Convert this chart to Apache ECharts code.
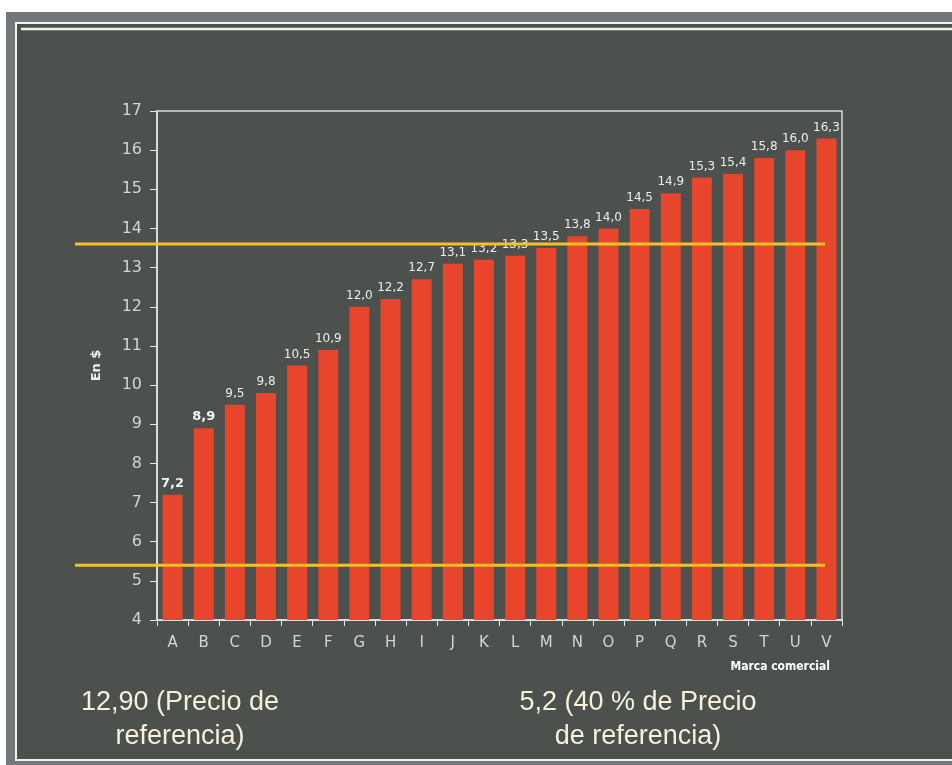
<!DOCTYPE html>
<html>
<head>
<meta charset="utf-8">
<script src="https://cdn.jsdelivr.net/npm/echarts@6/dist/echarts.min.js"></script>
<style>
html,body{margin:0;padding:0;background:#ffffff;}
#main{width:952px;height:765px;}
</style>
</head>
<body>
<div id="main"></div>
<script>
// ---- data ----
const categories = ['A','B','C','D','E','F','G','H','I','J','K','L','M','N','O','P','Q','R','S','T','U','V'];
const prices = [7.2, 8.9, 9.5, 9.8, 10.5, 10.9, 12.0, 12.2, 12.7, 13.1, 13.2, 13.3, 13.5, 13.8, 14.0, 14.5, 14.9, 15.3, 15.4, 15.8, 16.0, 16.3];
const boldLabels = ['A','B'];
const upperRefLine = 13.6;
const lowerRefLine = 5.4;
const yTicks = { min: 4, max: 17, interval: 1 };
const yAxisName = 'En $';
const xAxisName = 'Marca comercial';
const noteLeft = '12,90 (Precio de\nreferencia)';
const noteRight = '5,2 (40 % de Precio\nde referencia)';

const chart = echarts.init(document.getElementById('main'), null, {renderer:'canvas'});

const barData = prices.map((v, i) => ({
  value: v,
  label: boldLabels.indexOf(categories[i]) >= 0 ? {fontWeight:'bold', fontSize:13, color:'#f4f4f4'} : undefined
}));

const option = {
  backgroundColor: '#ffffff',
  animation: false,
  graphic: [
    {type:'rect', z:-10, shape:{x:6,y:12,width:946,height:753}, style:{fill:'#74777a'}},
    {type:'rect', z:-9, shape:{x:16,y:23,width:940,height:737}, style:{fill:'#4c514e', stroke:'#f2f2f2', lineWidth:2}},
    {type:'line', z:-8, shape:{x1:21,y1:29,x2:952,y2:29}, style:{stroke:'#f2f2f2', lineWidth:2.5}},
    {type:'text', x:830, y:667, z:10, style:{text:xAxisName, fill:'#ffffff', font:'bold 12px "DejaVu Sans Condensed","DejaVu Sans"', textAlign:'right', textVerticalAlign:'middle'}},
    {type:'text', x:180, y:720, z:10, style:{text:noteLeft, fill:'#f5f1da', font:'27px "Liberation Sans"', textAlign:'center', textVerticalAlign:'middle', lineHeight:34}},
    {type:'text', x:638, y:720, z:10, style:{text:noteRight, fill:'#f5f1da', font:'27px "Liberation Sans"', textAlign:'center', textVerticalAlign:'middle', lineHeight:34}}
  ],
  grid: [
    {left:157, right:110, top:111, bottom:145, show:true, borderColor:'#dcdcdc', borderWidth:1.5, backgroundColor:'transparent'},
    {left:75, right:127, top:111, bottom:145, show:false}
  ],
  xAxis: [
    {
      type:'category', data:categories, gridIndex:0,
      boundaryGap:true,
      axisLine:{show:true, lineStyle:{color:'#e6e6e6', width:1.5}},
      axisTick:{show:true, alignWithLabel:false, length:6, lineStyle:{color:'#e6e6e6'}},
      axisLabel:{color:'#d2d5d2', fontSize:15, margin:16, fontFamily:'DejaVu Sans'}
    },
    {type:'value', gridIndex:1, min:0, max:1, show:false}
  ],
  yAxis: [
    {
      type:'value', gridIndex:0, min:yTicks.min, max:yTicks.max, interval:yTicks.interval,
      name:yAxisName, nameLocation:'middle', nameGap:54, nameRotate:90,
      nameTextStyle:{color:'#eeeeee', fontWeight:'bold', fontSize:13, fontFamily:'DejaVu Sans'},
      axisLine:{show:true, lineStyle:{color:'#e6e6e6', width:1.5}},
      axisTick:{show:true, length:7, lineStyle:{color:'#e6e6e6'}},
      axisLabel:{color:'#d2d5d2', fontSize:16, margin:15, fontFamily:'DejaVu Sans'},
      splitLine:{show:false}
    },
    {type:'value', gridIndex:1, min:yTicks.min, max:yTicks.max, show:false}
  ],
  series: [
    {
      type:'bar', xAxisIndex:0, yAxisIndex:0, data:barData, barWidth:'64%',
      itemStyle:{color:'#e8462c'},
      label:{show:true, position:'top', distance:5, color:'#ececec', fontSize:12, fontFamily:'DejaVu Sans',
        formatter: p => p.value.toFixed(1).replace('.', ',')}
    },
    {
      type:'line', xAxisIndex:1, yAxisIndex:1, symbol:'none', z:5,
      data:[[0, upperRefLine],[1, upperRefLine]],
      lineStyle:{color:'#f3c129', width:3}
    },
    {
      type:'line', xAxisIndex:1, yAxisIndex:1, symbol:'none', z:5,
      data:[[0, lowerRefLine],[1, lowerRefLine]],
      lineStyle:{color:'#f3c129', width:3}
    }
  ]
};
chart.setOption(option);
</script>
</body>
</html>
